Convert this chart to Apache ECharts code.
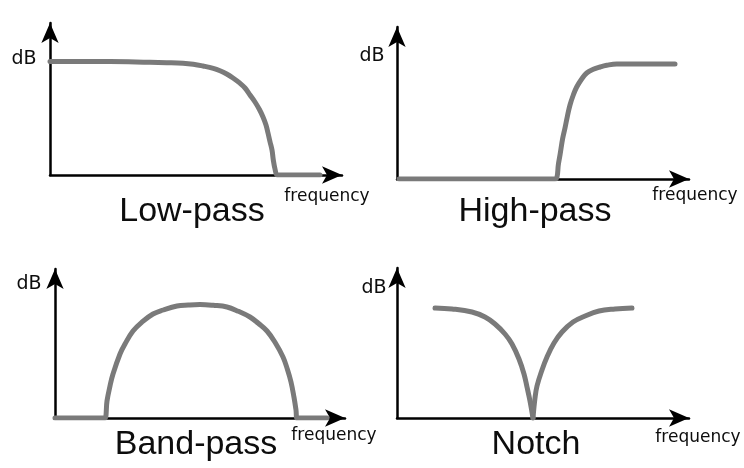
<!DOCTYPE html>
<html>
<head>
<meta charset="utf-8">
<script src="https://cdn.jsdelivr.net/npm/echarts@6/dist/echarts.min.js"></script>
<style>
  html, body { margin: 0; padding: 0; background: #fff; }
  #chart { width: 744px; height: 468px; }
</style>
</head>
<body>
<div id="chart"></div>
<script>
// filter shapes: [frequency, dB] from each panel's origin
var lowPass = [[0, 113.5], [60, 113.5], [100, 112.7], [116.7, 112.3], [133, 111.7], [143.3, 110.7], [153, 109], [163.3, 106.7], [170, 104.3], [176.7, 101], [183, 97], [189.3, 92.3], [195, 87], [200, 80], [205, 73], [209.3, 65.7], [213, 58], [216, 50], [218, 42], [220, 33.3], [222, 25], [223.3, 15], [225, 6], [227, 0], [229, 0], [270, 0]];
var highPass = [[2, 0], [156, 0], [158, 0], [160, 2], [161.3, 14], [163, 24], [165.7, 40.7], [168, 51], [170.3, 62.3], [173, 74], [176.3, 84], [179.7, 92], [184.7, 100], [189.7, 106], [196.3, 109.7], [203, 112], [209.7, 113.7], [219.7, 115], [243, 115], [278, 115]];
var bandPass = [[0, 0], [47, 0], [50, 0], [52, 17], [55, 32], [58, 44], [65, 64], [70, 74], [78, 87], [86.7, 95.7], [98, 104], [108.3, 108], [122, 112], [133.3, 113], [145, 113.5], [158.3, 112.7], [172, 111], [183.3, 106.7], [195, 101], [203.3, 94.7], [212, 87], [220, 75.7], [228, 61], [232.3, 49], [236, 36], [239, 20.7], [241, 8], [242, 0], [245, 0], [272, 0]];
var notchLeft = [[38, 110], [55, 109], [75, 106], [88, 101], [98, 94], [108, 84], [115, 74], [122, 59], [127, 44], [130, 31], [133, 17], [136, 0]];
var notchRight = [[136, 0], [138, 20], [140, 32], [145, 48], [150, 61], [157, 75], [165, 86], [176, 96], [188, 102], [202, 107], [218, 109], [235, 110]];

var titles = ['Low-pass', 'High-pass', 'Band-pass', 'Notch'];
var yName = 'dB';
var xName = 'frequency';

var myChart = echarts.init(document.getElementById('chart'));

var grids = [
  { left: 50, top: 23, width: 292, height: 152 },
  { left: 397, top: 27, width: 292, height: 152 },
  { left: 55, top: 269, width: 290, height: 149 },
  { left: 397, top: 268, width: 292, height: 150 }
];

function axis(max) {
  return {
    type: 'value',
    min: 0,
    max: max,
    axisLine: {
      show: true,
      symbol: ['none', 'arrow'],
      symbolSize: [13, 20],
      lineStyle: { color: '#000', width: 2.5 }
    },
    axisTick: { show: false },
    axisLabel: { show: false },
    splitLine: { show: false }
  };
}

function curve(data, idx) {
  return {
    type: 'line',
    xAxisIndex: idx,
    yAxisIndex: idx,
    data: data,
    smooth: 0.4,
    symbol: 'none',
    lineStyle: { color: '#7a7a7a', width: 5, join: 'round', cap: 'round' }
  };
}

function text(str, x, y, size, family) {
  return {
    type: 'text',
    x: x,
    y: y,
    style: {
      text: str,
      fill: '#0d0d0d',
      font: size + 'px "' + family + '"',
      textAlign: 'center',
      textVerticalAlign: 'middle'
    }
  };
}

var option = {
  animation: false,
  grid: grids.map(function (g) {
    return { left: g.left, top: g.top, width: g.width, height: g.height, containLabel: false };
  }),
  xAxis: grids.map(function (g, i) {
    var a = axis(g.width);
    a.gridIndex = i;
    return a;
  }),
  yAxis: grids.map(function (g, i) {
    var a = axis(g.height);
    a.gridIndex = i;
    return a;
  }),
  series: [
    curve(lowPass, 0),
    curve(highPass, 1),
    curve(bandPass, 2),
    curve(notchLeft, 3),
    curve(notchRight, 3)
  ],
  graphic: [
    text(yName, 24, 59, 19, 'DejaVu Sans'),
    text(yName, 372, 56, 19, 'DejaVu Sans'),
    text(yName, 29, 284, 19, 'DejaVu Sans'),
    text(yName, 374, 288, 19, 'DejaVu Sans'),
    text(xName, 327, 197, 17, 'DejaVu Sans'),
    text(xName, 695, 196, 17, 'DejaVu Sans'),
    text(xName, 334, 436, 17, 'DejaVu Sans'),
    text(xName, 698, 438, 17, 'DejaVu Sans'),
    text(titles[0], 192, 212, 34, 'Liberation Sans'),
    text(titles[1], 535, 212, 34, 'Liberation Sans'),
    text(titles[2], 196, 445, 34, 'Liberation Sans'),
    text(titles[3], 536, 445, 34, 'Liberation Sans')
  ]
};
myChart.setOption(option);
</script>
</body>
</html>
